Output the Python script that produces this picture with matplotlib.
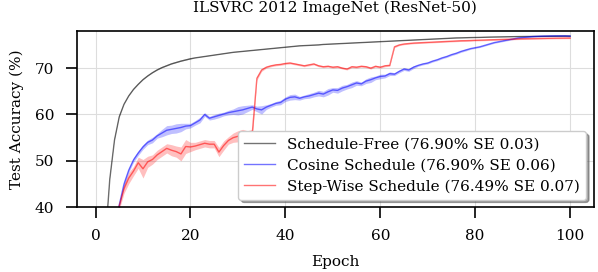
import numpy as np
import matplotlib
matplotlib.use("Agg")
import matplotlib.pyplot as plt

plt.rcParams['font.family'] = ['DejaVu Serif']

epochs = list(range(1, 101))

sf_acc = [18.0, 32.0, 46.0, 54.5, 59.5, 62.2, 64.0, 65.4, 66.5, 67.5,
          68.3, 69.0, 69.6, 70.1, 70.5, 70.9, 71.2, 71.5, 71.75, 72.0,
          72.2, 72.35, 72.5, 72.65, 72.8, 72.95, 73.1, 73.25, 73.4, 73.5,
          73.6, 73.7, 73.8, 73.9, 74.0, 74.1, 74.2, 74.3, 74.4, 74.5,
          74.6, 74.7, 74.8, 74.85, 74.9, 74.95, 75.0, 75.1, 75.15, 75.2,
          75.25, 75.3, 75.35, 75.4, 75.45, 75.5, 75.55, 75.6, 75.65, 75.7,
          75.75, 75.8, 75.85, 75.9, 75.95, 76.0, 76.05, 76.1, 76.15, 76.2,
          76.25, 76.3, 76.35, 76.4, 76.45, 76.5, 76.52, 76.55, 76.58, 76.6,
          76.62, 76.65, 76.68, 76.7, 76.72, 76.74, 76.76, 76.78, 76.8, 76.81,
          76.82, 76.83, 76.84, 76.85, 76.86, 76.87, 76.88, 76.89, 76.9, 76.9]
sf_se = [0.3] * 5 + [0.15] * 15 + [0.08] * 80

cos_acc = [20.0, 27.0, 32.0, 36.5, 40.5, 45.0, 48.0, 50.2, 51.7, 53.0,
           54.0, 54.5, 55.4, 56.0, 56.6, 56.8, 57.0, 57.2, 57.5, 57.6,
           58.2, 58.8, 60.0, 59.2, 59.5, 59.8, 60.1, 60.4, 60.6, 60.8,
           61.0, 61.3, 61.6, 61.2, 61.0, 61.6, 62.0, 62.4, 62.6, 63.3,
           63.7, 63.8, 63.5, 63.8, 64.0, 64.3, 64.6, 64.4, 64.9, 65.3,
           65.2, 65.7, 66.0, 66.4, 66.8, 66.6, 67.2, 67.5, 67.9, 68.2,
           68.3, 68.8, 68.7, 69.3, 69.8, 69.6, 70.2, 70.6, 70.9, 71.1,
           71.5, 71.8, 72.2, 72.5, 72.9, 73.2, 73.6, 73.9, 74.2, 74.4,
           74.6, 74.9, 75.2, 75.5, 75.7, 75.9, 76.1, 76.3, 76.5, 76.6,
           76.7, 76.8, 76.85, 76.9, 76.92, 76.94, 76.95, 76.95, 76.95, 76.9]
cos_se = [0.5, 0.5, 0.5, 0.5, 0.5, 0.6, 0.5, 0.5, 0.5, 0.5,
          0.5, 0.6, 0.5, 0.8, 1.0, 0.9, 1.0, 0.9, 0.6, 0.5,
          0.5, 0.6, 0.4, 0.4, 0.5, 0.5, 0.4, 0.5, 0.6, 0.9,
          0.9, 0.7, 0.5, 0.6, 0.9, 0.5, 0.4, 0.4, 0.5, 0.5,
          0.6, 0.6, 0.4, 0.4, 0.5, 0.5, 0.6, 0.6, 0.7, 0.5,
          0.6, 0.6, 0.5, 0.6, 0.5, 0.4, 0.5, 0.6, 0.4, 0.5,
          0.4, 0.4, 0.3, 0.3, 0.3, 0.3, 0.3, 0.2, 0.2, 0.2,
          0.2, 0.2, 0.2, 0.2, 0.2, 0.2, 0.2, 0.2, 0.15, 0.15,
          0.15, 0.15, 0.15, 0.15, 0.15, 0.15, 0.15, 0.15, 0.15, 0.15,
          0.15, 0.15, 0.15, 0.15, 0.15, 0.15, 0.15, 0.15, 0.15, 0.15]

step_acc = [20.0, 27.0, 32.0, 36.0, 40.3, 44.0, 46.3, 47.8, 49.6, 48.3,
            49.8, 50.3, 51.3, 52.0, 52.7, 52.3, 52.0, 51.5, 53.1, 53.0,
            53.2, 53.5, 53.8, 53.6, 53.6, 51.9, 53.3, 54.4, 55.0, 55.3,
            55.6, 55.3, 55.6, 67.8, 69.6, 70.2, 70.5, 70.7, 70.8, 71.0,
            71.1, 70.9, 70.7, 70.5, 70.7, 70.9, 70.5, 70.3, 70.4, 70.2,
            70.3, 70.0, 69.8, 70.3, 70.2, 70.4, 70.3, 70.0, 70.4, 70.2,
            70.5, 70.6, 74.6, 75.0, 75.2, 75.3, 75.4, 75.45, 75.5, 75.55,
            75.6, 75.65, 75.7, 75.75, 75.8, 75.85, 75.9, 75.92, 75.95, 76.0,
            76.03, 76.06, 76.1, 76.13, 76.16, 76.2, 76.23, 76.26, 76.3, 76.32,
            76.34, 76.36, 76.38, 76.4, 76.42, 76.44, 76.46, 76.47, 76.48, 76.49]
step_se = [1.0, 1.0, 1.0, 1.0, 0.8, 1.0, 1.2, 1.0, 1.2, 2.0,
           1.2, 1.0, 1.0, 1.0, 1.0, 1.2, 1.2, 1.5, 1.5, 1.0,
           0.8, 0.8, 0.8, 0.8, 0.8, 1.0, 1.0, 0.8, 1.0, 1.2,
           1.2, 1.2, 1.2, 0.4, 0.3, 0.2, 0.2, 0.2, 0.2, 0.2,
           0.2, 0.2, 0.2, 0.2, 0.2, 0.2, 0.2, 0.2, 0.2, 0.2,
           0.2, 0.2, 0.2, 0.2, 0.2, 0.2, 0.2, 0.2, 0.2, 0.2,
           0.2, 0.2, 0.2, 0.15, 0.15, 0.15, 0.15, 0.15, 0.15, 0.15,
           0.15, 0.15, 0.15, 0.15, 0.15, 0.15, 0.15, 0.15, 0.15, 0.15,
           0.15, 0.15, 0.15, 0.15, 0.15, 0.15, 0.15, 0.15, 0.15, 0.15,
           0.15, 0.15, 0.15, 0.15, 0.15, 0.15, 0.15, 0.15, 0.15, 0.15]

labels = ['Schedule-Free (76.90% SE 0.03)',
          'Cosine Schedule (76.90% SE 0.06)',
          'Step-Wise Schedule (76.49% SE 0.07)']
colors = ['black', 'blue', 'red']

fig = plt.figure(figsize=(5.98, 2.72), dpi=100)
ax = fig.add_axes([0.128, 0.238, 0.865, 0.648])

x = np.array(epochs)
for acc, se, label, color in zip([sf_acc, cos_acc, step_acc], [sf_se, cos_se, step_se], labels, colors):
    acc = np.array(acc)
    se = np.array(se)
    ax.plot(x, acc, color=color, alpha=0.55, linewidth=1.0, label=label)
    ax.fill_between(x, acc - se, acc + se, color=color, alpha=0.25, linewidth=0)

ax.set_xlim(-4, 105)
ax.set_ylim(40, 78)
ax.set_xticks([0, 20, 40, 60, 80, 100])
ax.set_yticks([40, 50, 60, 70])
ax.grid(True, color='#dddddd', linewidth=0.8)
ax.set_axisbelow(True)
ax.tick_params(labelsize=11, length=8, width=1.2, pad=8)
for s in ax.spines.values():
    s.set_linewidth(1.2)

ax.set_xlabel('Epoch', fontsize=11, labelpad=8)
ax.set_ylabel('Test Accuracy (%)', fontsize=11, labelpad=8)
ax.set_title('ILSVRC 2012 ImageNet (ResNet-50)', fontsize=11, pad=14)
ax.legend(loc='lower right', fontsize=11, shadow=True, framealpha=1.0,
          labelspacing=0.45)

fig.savefig('out.png', dpi=100)
